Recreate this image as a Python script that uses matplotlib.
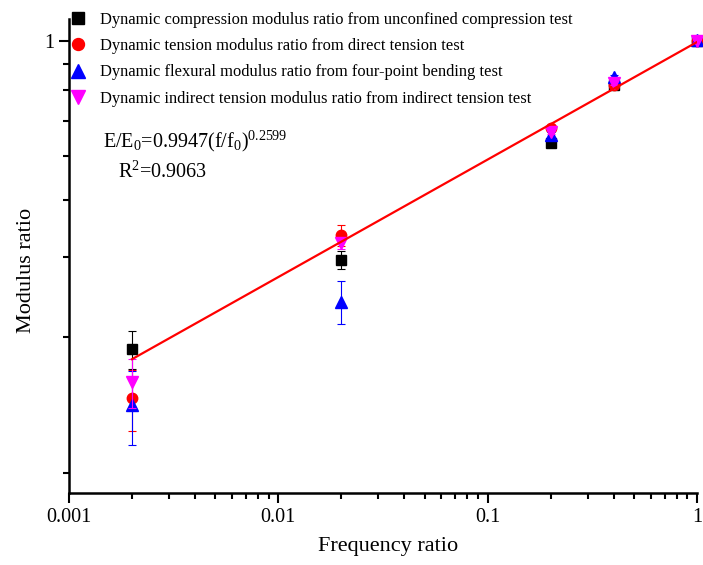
import numpy as np
import matplotlib
matplotlib.use("Agg")
import matplotlib.pyplot as plt
from matplotlib.lines import Line2D
from matplotlib.ticker import NullFormatter, FixedLocator, LogLocator

plt.rcParams['font.family'] = ['Liberation Serif', 'DejaVu Serif']
plt.rcParams['mathtext.fontset'] = 'custom'
plt.rcParams['mathtext.rm'] = 'Liberation Serif'
plt.rcParams['mathtext.it'] = 'Liberation Serif:italic'
plt.rcParams['mathtext.bf'] = 'Liberation Serif:bold'

# ---- data ----
freq = [0.002, 0.02, 0.2, 0.4, 1.0]
compression = [0.208, 0.328, 0.594, 0.800, 1.000]
compression_err = [0.020, 0.015, 0.008, 0.008, 0.005]
tension = [0.162, 0.372, 0.641, 0.799, 1.000]
tension_err = [0.025, 0.020, 0.010, 0.008, 0.005]
flexural = [0.157, 0.265, 0.620, 0.831, 1.005]
flexural_err = [0.029, 0.029, 0.008, 0.008, 0.005]
indirect = [0.176, 0.357, 0.630, 0.806, 1.000]
indirect_err = [0.022, 0.010, 0.008, 0.008, 0.005]

fit_a = 0.9947
fit_b = 0.2599
fit_range = [0.002, 1.0]

labels = [
    "Dynamic compression modulus ratio from unconfined compression test",
    "Dynamic tension modulus ratio from direct tension test",
    "Dynamic flexural modulus ratio from four-point bending test",
    "Dynamic indirect tension modulus ratio from indirect tension test",
]
xticks = [0.001, 0.01, 0.1, 1]
xtick_labels = ["0.001", "0.01", "0.1", "1"]
yticks = [1]
ytick_labels = ["1"]
yminor = [0.111, 0.222, 0.333, 0.444, 0.556, 0.667, 0.778, 0.889]

W, H = 703, 565
fig = plt.figure(figsize=(W / 100, H / 100), dpi=100)
L, R, T, B = 69, 697, 19, 492.7
ax = fig.add_axes([L / W, 1 - B / H, (R - L) / W, (B - T) / H])
ax.set_xscale('log')
ax.set_yscale('log')
ax.set_xlim(0.001, 1)
ax.set_ylim(0.1002, 1.1185)

series = [
    (compression, compression_err, 'black', 's', 6.5),
    (tension, tension_err, 'red', 'o', 7.5),
    (flexural, flexural_err, 'blue', '^', 9),
    (indirect, indirect_err, 'magenta', 'v', 9),
]
for i, (vals, err, col, mk, ms) in enumerate(series):
    cont = ax.errorbar(freq, vals, yerr=err, fmt=mk, color=col, ms=ms,
                       mec=col, mfc=col, elinewidth=0.8, capsize=3.2,
                       capthick=0.8, zorder=3 + i)
    for a in cont.lines[0:1]:
        a.set_clip_on(False)

xf = np.logspace(np.log10(fit_range[0]), np.log10(fit_range[1]), 200)
ax.plot(xf, fit_a * xf ** fit_b, color='red', lw=1.6, zorder=10)

# axes styling
for s in ['top', 'right']:
    ax.spines[s].set_visible(False)
for s in ['left', 'bottom']:
    ax.spines[s].set_linewidth(1.8)

ax.set_xticks(xticks, labels=xtick_labels)
ax.xaxis.set_minor_locator(LogLocator(base=10, subs=np.arange(2, 10)))
ax.xaxis.set_minor_formatter(NullFormatter())
ax.set_yticks(yticks, labels=ytick_labels)
ax.yaxis.set_minor_locator(FixedLocator(yminor))
ax.yaxis.set_minor_formatter(NullFormatter())
ax.tick_params(which='major', direction='out', length=7.2, width=1.5,
               labelsize=14.5, pad=3.5)
ax.tick_params(which='minor', direction='out', length=4.2, width=1.5)

ax.set_xlabel('Frequency ratio', fontsize=16)
ax.set_ylabel('Modulus ratio', fontsize=16)
ax.xaxis.set_label_coords((388 - L) / (R - L), (B - 537) / (B - T))
ax.yaxis.set_label_coords((36 - L) / (R - L), (B - 270) / (B - T))

# legend (markers only)
handles = [Line2D([], [], ls='none', marker=mk, color=col, ms=m2)
           for (v, e, col, mk, ms), m2 in zip(series, [8.4, 8.6, 9.8, 9.8])]
leg = ax.legend(handles, labels, loc='upper left',
                bbox_to_anchor=(69.25 / W, 1 - 12 / H),
                bbox_transform=fig.transFigure, frameon=False,
                borderpad=0, borderaxespad=0, handlelength=1.0,
                handletextpad=0.86, labelspacing=0.62,
                prop={'size': 11.9})
leg.set_zorder(20)

# equation
fig.text(103 / W, 1 - 147 / H,
         r'E/E$_\mathregular{0}$=0.9947(f/f$_\mathregular{0}$)$^\mathregular{0.2599}$',
         fontsize=14.5, va='baseline', ha='left')
fig.text(118 / W, 1 - 178 / H, r'R$^\mathregular{2}$=0.9063',
         fontsize=14.5, va='baseline', ha='left')

fig.savefig('out.png', dpi=100)
